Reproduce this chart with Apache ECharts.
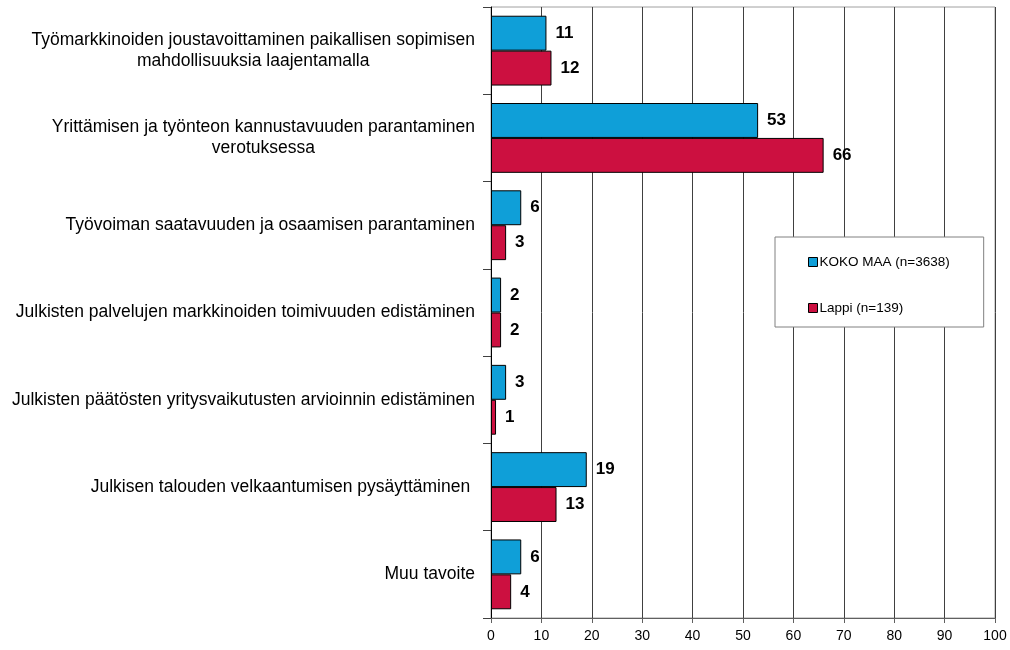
<!DOCTYPE html>
<html>
<head>
<meta charset="utf-8">
<script src="https://cdn.jsdelivr.net/npm/echarts@6/dist/echarts.min.js"></script>
<style>
  html, body { margin: 0; padding: 0; background: #fff; }
  #chart { width: 1010px; height: 650px; }
</style>
</head>
<body>
<div id="chart"></div>
<script>
// tavoitteet (kategoriat), ylhäältä alas
const categories = [
  'Työmarkkinoiden joustavoittaminen paikallisen sopimisen\nmahdollisuuksia laajentamalla',
  'Yrittämisen ja työnteon kannustavuuden parantaminen\nverotuksessa',
  'Työvoiman saatavuuden ja osaamisen parantaminen',
  'Julkisten palvelujen markkinoiden toimivuuden edistäminen',
  'Julkisten päätösten yritysvaikutusten arvioinnin edistäminen',
  'Julkisen talouden velkaantumisen pysäyttäminen ',
  'Muu tavoite'
];
const kokoMaa = [11, 53, 6, 2, 3, 19, 6];
const lappi = [12, 66, 3, 2, 1, 13, 4];
const seriesNames = ['KOKO MAA (n=3638)', 'Lappi (n=139)'];

const font = 'Liberation Sans, Arial, sans-serif';

const chart = echarts.init(document.getElementById('chart'), null, { renderer: 'canvas' });

function barSeries(name, data, color) {
  return {
    name,
    type: 'bar',
    data,
    barGap: '0%',
    barCategoryGap: '20%',
    itemStyle: { color, borderColor: '#000', borderWidth: 1 },
    label: {
      show: true,
      position: 'right',
      distance: 9,
      color: '#000',
      fontFamily: font,
      fontWeight: 'bold',
      fontSize: 17
    },
    animation: false
  };
}

chart.setOption({
  backgroundColor: '#fff',
  animation: false,
  grid: {
    left: 491, right: 15, top: 7, bottom: 32,
    show: true, borderColor: '#a0a0a0', borderWidth: 1
  },
  legend: {
    orient: 'vertical',
    left: 775,
    top: 237,
    data: seriesNames,
    backgroundColor: '#fff',
    borderColor: '#808080',
    borderWidth: 1,
    padding: [18, 34, 12, 33],
    itemGap: 32,
    itemWidth: 9,
    itemHeight: 9,
    icon: 'rect',
    itemStyle: { borderColor: '#000', borderWidth: 1 },
    textStyle: { fontFamily: font, fontSize: 13.5, color: '#000', padding: [0, 0, 0, -3] }
  },
  xAxis: {
    type: 'value',
    min: 0,
    max: 100,
    interval: 10,
    axisLine: { show: true, lineStyle: { color: '#606060', width: 1 } },
    axisTick: { show: true, length: 5, lineStyle: { color: '#606060' } },
    axisLabel: { fontFamily: font, fontSize: 14, color: '#000', margin: 11 },
    splitLine: { show: true, lineStyle: { color: '#404040', width: 1 } }
  },
  yAxis: {
    type: 'category',
    inverse: true,
    data: categories,
    axisLine: { show: true, lineStyle: { color: '#000', width: 1 } },
    axisTick: { show: true, length: 8, lineStyle: { color: '#404040' } },
    axisLabel: {
      margin: 16,
      fontFamily: font,
      fontSize: 17.5,
      color: '#000',
      lineHeight: 21,
      formatter: (v) => v.split('\n').map((l) => '{c|' + l + '}').join('\n'),
      rich: { c: { align: 'center', fontFamily: font, fontSize: 17.5, color: '#000', lineHeight: 21 } }
    }
  },
  series: [
    barSeries(seriesNames[0], kokoMaa, '#0f9fd8'),
    barSeries(seriesNames[1], lappi, '#cc1040')
  ]
});
</script>
</body>
</html>
